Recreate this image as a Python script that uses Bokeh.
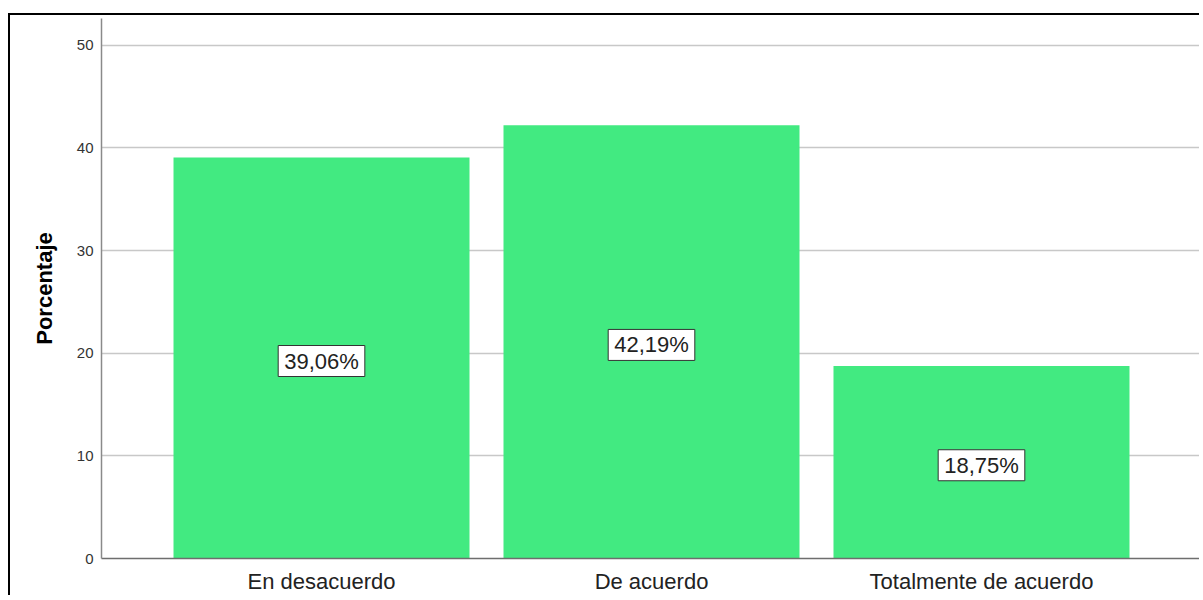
from bokeh.plotting import figure
from bokeh.models import ColumnDataSource, FactorRange, Range1d, FixedTicker
from bokeh.core.properties import value
from bokeh.embed import file_html
from bokeh.resources import INLINE

categories = ["En desacuerdo", "De acuerdo", "Totalmente de acuerdo"]
percentages = [39.06, 42.19, 18.75]
value_labels = ["39,06%", "42,19%", "18,75%"]
y_ticks = [0, 10, 20, 30, 40, 50]

FONT = "Liberation Sans"

src = ColumnDataSource(dict(
    cat=categories,
    pct=percentages,
    mid=[v / 2 for v in percentages],
    lab=value_labels,
))

p = figure(
    x_range=FactorRange(*categories, range_padding=0.1667, range_padding_units="absolute"),
    y_range=Range1d(0, 52.6),
    width=1191, height=582,
    output_backend="svg", toolbar_location=None,
    min_border_left=91, min_border_top=3, min_border_right=0, min_border_bottom=39,
)
p.styles = {"margin-left": "8px", "margin-top": "13px",
            "border-top": "2px solid black", "border-left": "2px solid black"}
p.outline_line_color = None
p.background_fill_color = "white"
p.border_fill_color = "white"

p.vbar(x="cat", top="pct", width=0.897, source=src,
       fill_color="#42EA81", line_color=None)

p.text(x="cat", y="mid", text="lab", source=src,
       text_align="center", text_baseline="middle", y_offset=3,
       text_font=value(FONT), text_font_size="22px", text_color="#222222",
       background_fill_color="white", border_line_color="#333333",
       border_line_width=1, padding=(6, 3))

# axes
p.xgrid.grid_line_color = None
p.ygrid.grid_line_color = "#c8c8c8"
p.ygrid.grid_line_width = 1.5
p.yaxis.ticker = FixedTicker(ticks=y_ticks)
p.yaxis.major_tick_line_color = None
p.yaxis.major_tick_out = 0
p.yaxis.major_tick_in = 0
p.yaxis.minor_tick_line_color = None
p.yaxis.axis_line_color = "#8a8a8a"
p.yaxis.axis_line_width = 1.5
p.yaxis.major_label_text_font = FONT
p.yaxis.major_label_text_font_size = "15px"
p.yaxis.major_label_text_color = "#333333"
p.yaxis.major_label_standoff = 8
p.yaxis.axis_label = "Porcentaje"
p.yaxis.axis_label_text_font = FONT
p.yaxis.axis_label_text_font_size = "22px"
p.yaxis.axis_label_text_font_style = "bold"
p.yaxis.axis_label_text_color = "black"
p.yaxis.axis_label_standoff = 17

p.xaxis.major_tick_line_color = None
p.xaxis.major_tick_out = 0
p.xaxis.major_tick_in = 0
p.xaxis.minor_tick_line_color = None
p.xaxis.axis_line_color = "#6e6e6e"
p.xaxis.axis_line_width = 1.5
p.xaxis.major_label_text_font = FONT
p.xaxis.major_label_text_font_size = "22px"
p.xaxis.major_label_text_color = "#222222"
p.xaxis.major_label_standoff = 10

open("out.html", "w").write(file_html(p, INLINE))
